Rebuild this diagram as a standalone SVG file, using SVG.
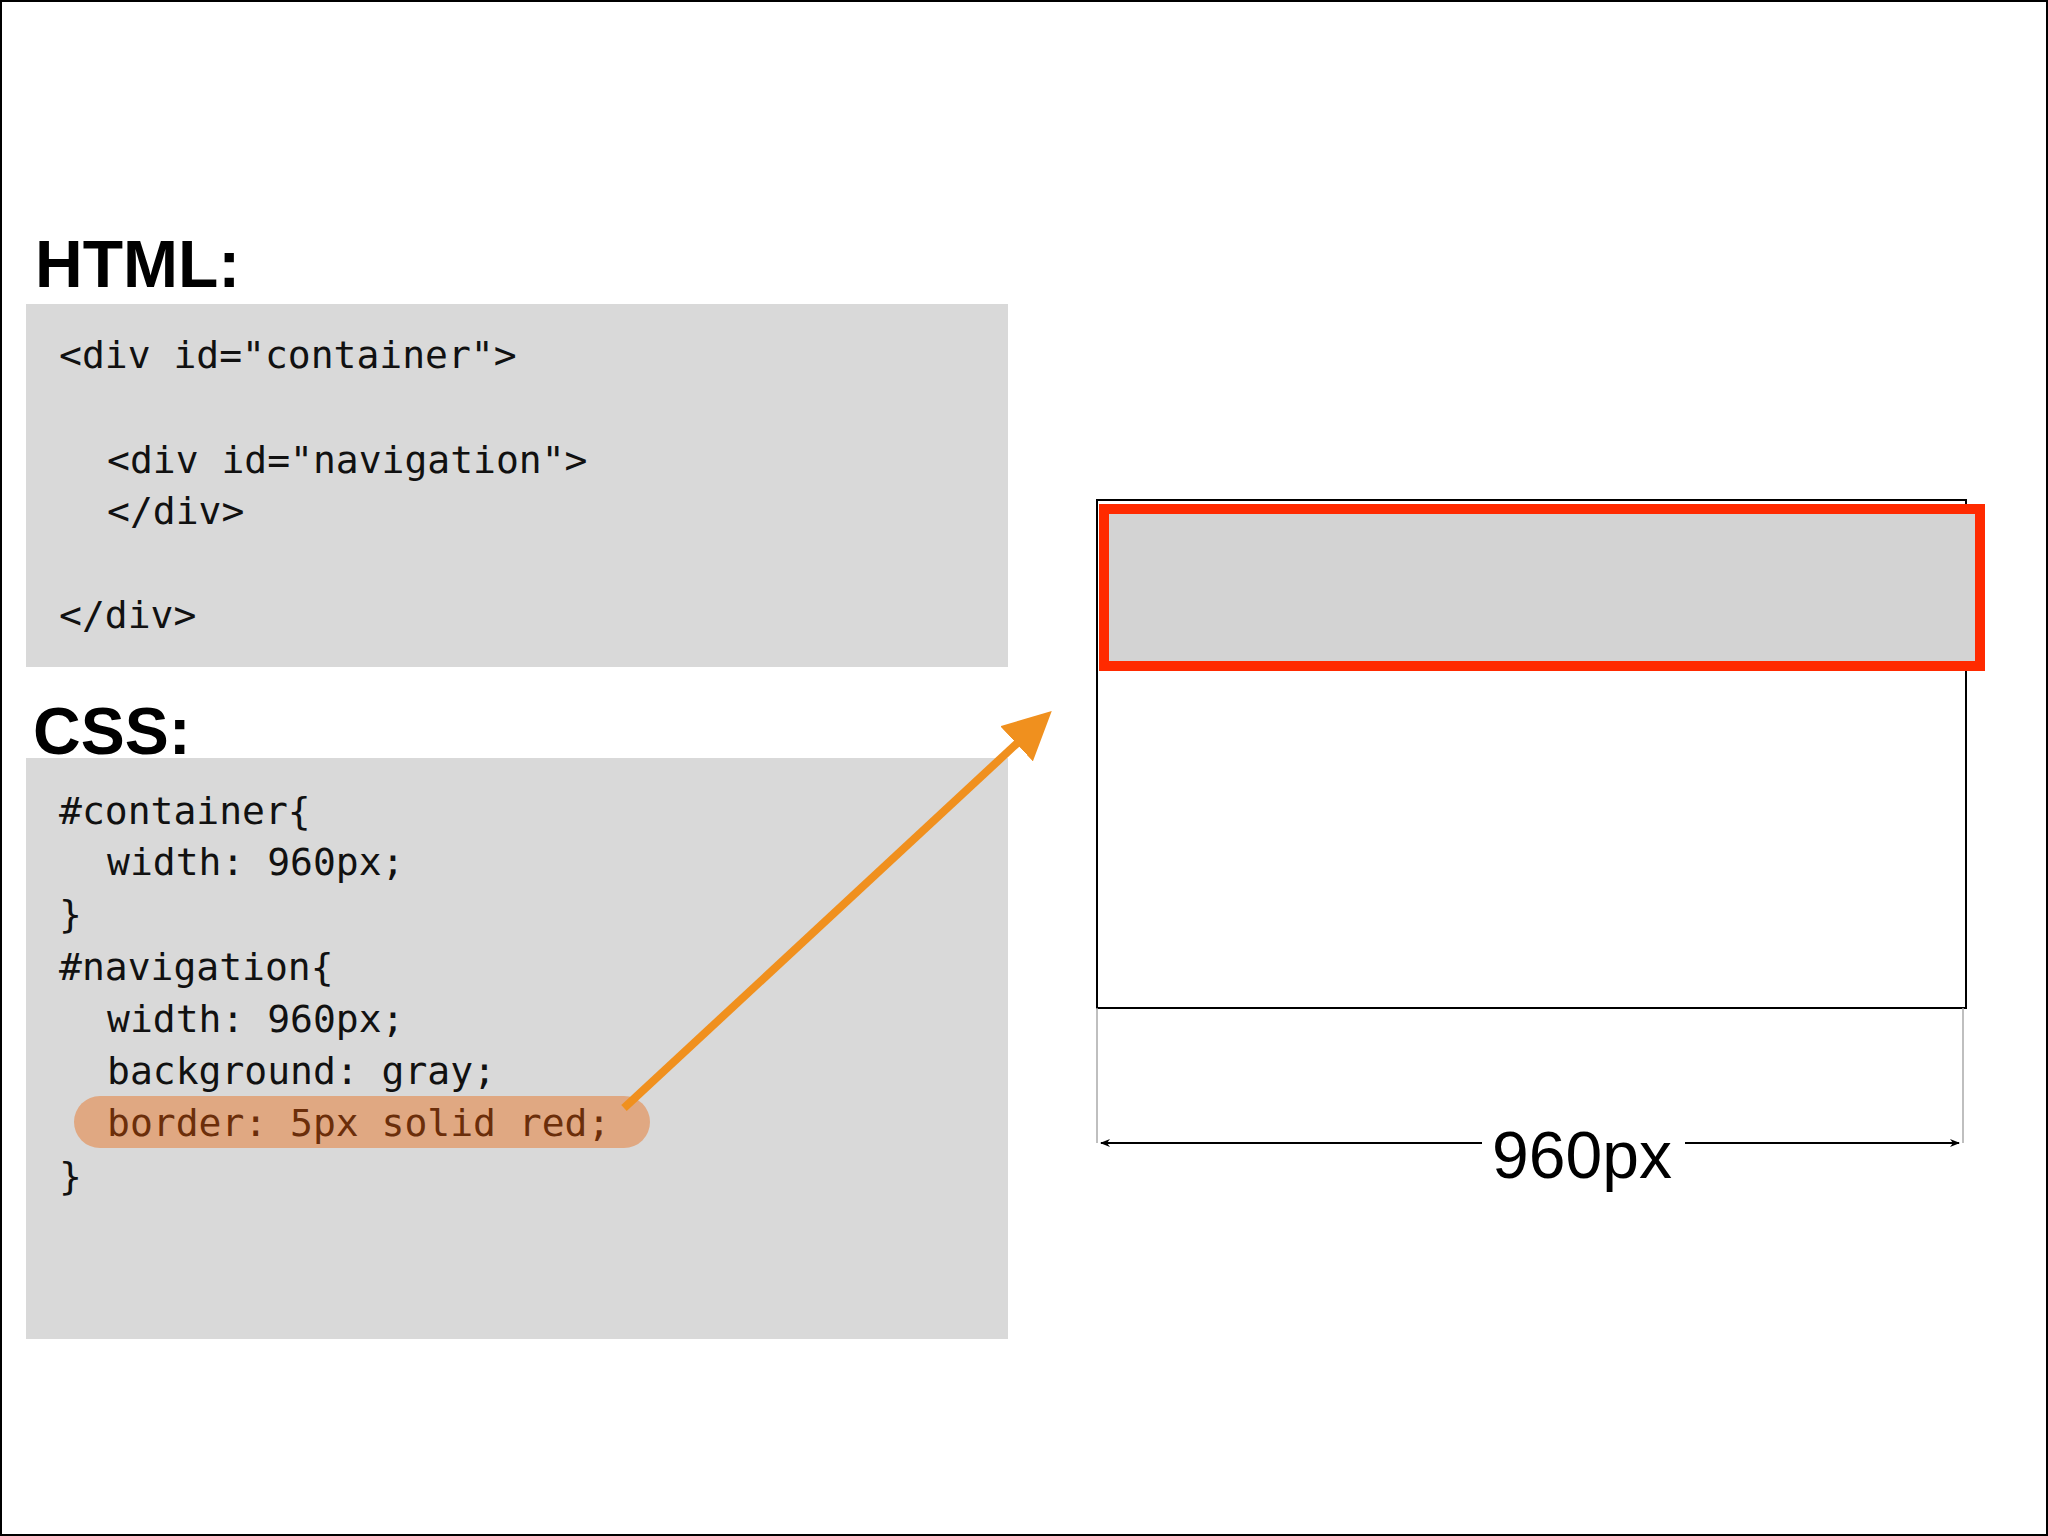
<svg xmlns="http://www.w3.org/2000/svg" width="2048" height="1536" viewBox="0 0 2048 1536">
<defs>
<style>
.h{font-family:"Liberation Sans",Arial,sans-serif;font-weight:bold;font-size:66px;fill:#000}
.c{font-family:"DejaVu Sans Mono","Liberation Mono",monospace;font-size:38px;fill:#111}
.box{fill:#d9d9d9}
</style>
<marker id="oa" markerWidth="6" markerHeight="6" refX="4" refY="3" orient="auto" markerUnits="strokeWidth"><path d="M0,0 L6,3 L0,6 Z" fill="#f0901e"/></marker>
<marker id="ka" markerWidth="10" markerHeight="8" refX="9" refY="4" orient="auto" markerUnits="userSpaceOnUse"><path d="M0,0 L10,4 L0,8 L3,4 Z" fill="#000"/></marker>
<marker id="kb" markerWidth="10" markerHeight="8" refX="1" refY="4" orient="auto" markerUnits="userSpaceOnUse"><path d="M10,0 L0,4 L10,8 L7,4 Z" fill="#000"/></marker>
</defs>
<rect x="1" y="1" width="2046" height="1534" fill="#fff" stroke="#000" stroke-width="2"/>
<g id="html">
<text class="h" x="35" y="287">HTML:</text>
<rect class="box" x="26" y="304" width="982" height="363"/>
<text class="c" x="59" y="368">&lt;div id="container"&gt;</text>
<text class="c" x="107" y="473">&lt;div id="navigation"&gt;</text>
<text class="c" x="107" y="524">&lt;/div&gt;</text>
<text class="c" x="59" y="628">&lt;/div&gt;</text>
</g>
<g id="css">
<text class="h" x="33" y="754">CSS:</text>
<rect class="box" x="26" y="758" width="982" height="581"/>
<rect x="74" y="1096" width="576" height="52" rx="26" fill="#e0a882"/>
<text class="c" x="59" y="824">#container{</text>
<text class="c" x="107" y="875">width: 960px;</text>
<text class="c" x="59" y="927">}</text>
<text class="c" x="59" y="980">#navigation{</text>
<text class="c" x="107" y="1032">width: 960px;</text>
<text class="c" x="107" y="1084">background: gray;</text>
<text class="c" x="107" y="1136" style="fill:#6b2e0a">border: 5px solid red;</text>
<text class="c" x="59" y="1189">}</text>
</g>
<g id="container">
<rect x="1097" y="500" width="869" height="508" fill="#fff" stroke="#000" stroke-width="2"/>
</g>
<g id="navigation">
<rect x="1104" y="509" width="876" height="157" fill="#d3d3d3" stroke="#ff2a00" stroke-width="10"/>
</g>
<g id="connectors">
<line x1="624" y1="1108" x2="1040" y2="722" stroke="#f0901e" stroke-width="8" marker-end="url(#oa)"/>
<line x1="1097" y1="1008" x2="1097" y2="1143" stroke="#aaa" stroke-width="1.5"/>
<line x1="1963" y1="1008" x2="1963" y2="1143" stroke="#aaa" stroke-width="1.5"/>
<line x1="1101" y1="1143" x2="1482" y2="1143" stroke="#000" stroke-width="2" marker-start="url(#kb)"/>
<line x1="1685" y1="1143" x2="1959" y2="1143" stroke="#000" stroke-width="2" marker-end="url(#ka)"/>
<text x="1582" y="1178" text-anchor="middle" font-family="Liberation Sans,Arial,sans-serif" font-size="66">960px</text>
</g>
</svg>
